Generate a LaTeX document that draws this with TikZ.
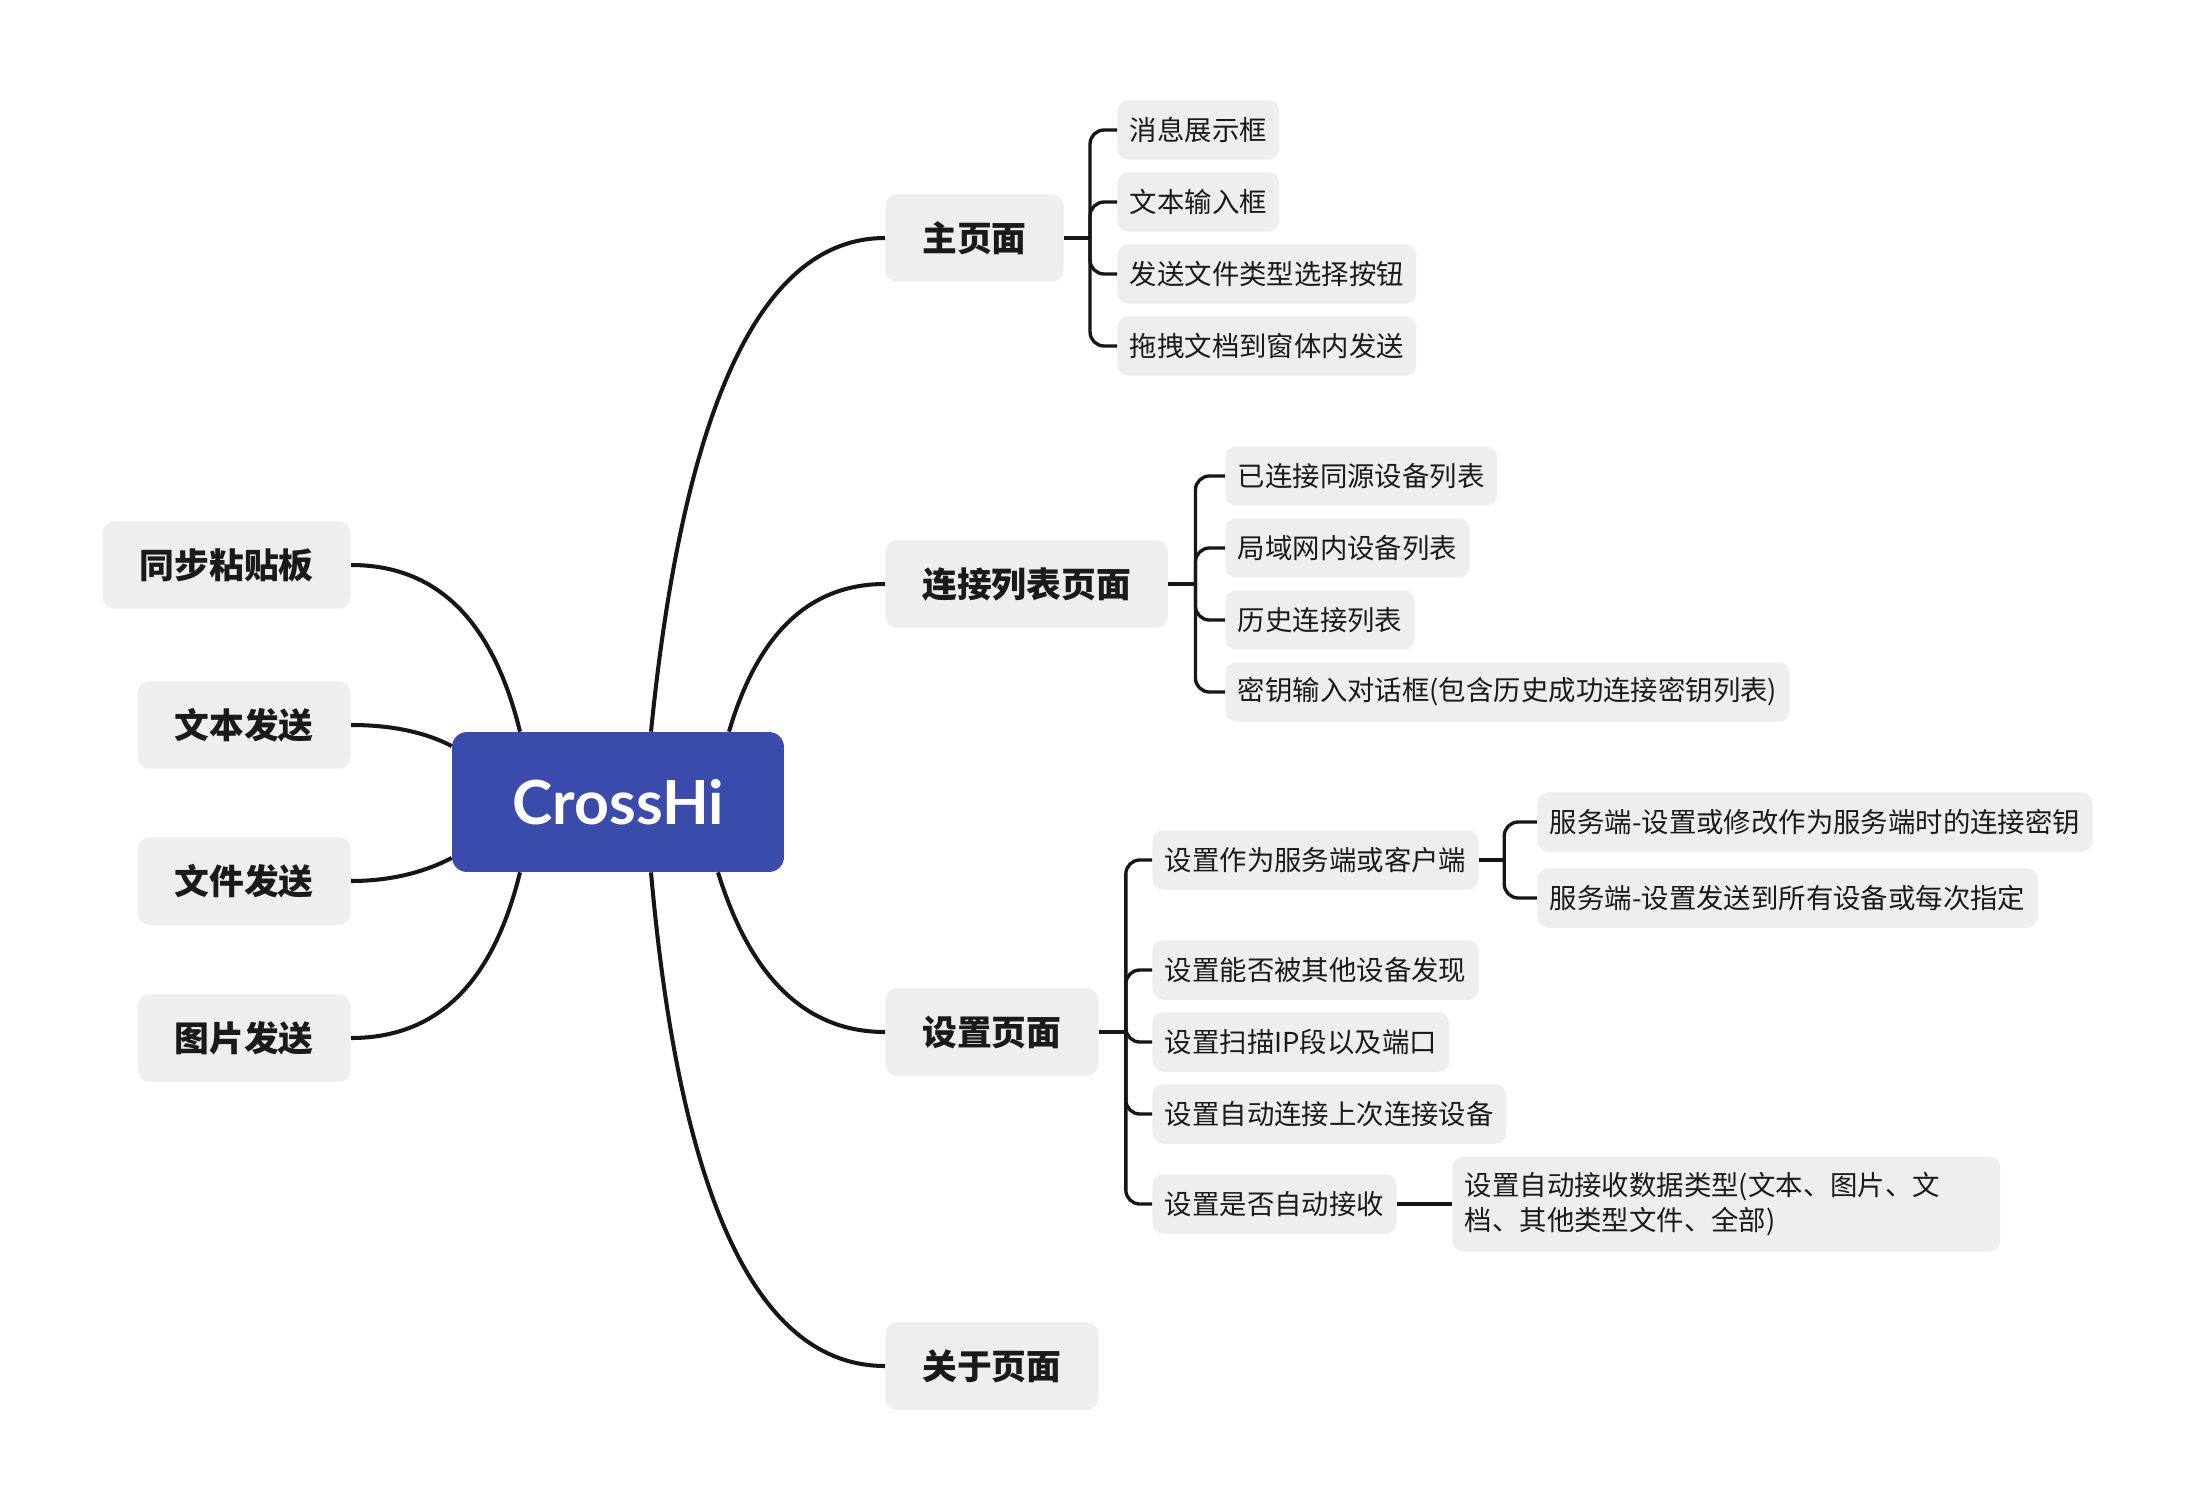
\documentclass[tikz,border=0pt]{standalone}
\usepackage{fontspec}
\setmainfont{Noto Sans CJK SC}
\newfontfamily\latofont{Lato}
\usetikzlibrary{calc}
\definecolor{RootClr}{HTML}{3B4BAB}
\definecolor{BoxClr}{HTML}{EEEEEE}
\definecolor{LineClr}{HTML}{161616}
\definecolor{TextClr}{HTML}{1A1A1A}

\begin{document}
\begin{tikzpicture}[x=0.02cm,y=-0.02cm,
  root/.style={fill=RootClr,rounded corners=0.3cm,minimum width=6.64cm,minimum height=2.8cm,
    text=white,font=\latofont\bfseries\fontsize{34.6}{40}\selectfont},
  topic/.style={fill=BoxClr,rounded corners=0.24cm,inner xsep=0.74cm,inner ysep=0pt,
    minimum height=1.75cm,text=TextClr,font=\bfseries\fontsize{19.8}{24}\selectfont},
  leaf/.style={fill=BoxClr,rounded corners=0.22cm,inner xsep=0.25cm,inner ysep=0pt,
    minimum height=1.19cm,text=TextClr,font=\fontsize{15.6}{20.4}\selectfont},
  branch/.style={draw=LineClr,line width=2.3pt},
  twig/.style={draw=LineClr,line width=1.9pt,rounded corners=0.28cm}]
\useasboundingbox (0,0) rectangle (2206,1510);

% centre
\node[root] (root) at (618,802) {CrossHi};

% left topics
\node[topic,anchor=east] (sync) at (351,565) {同步粘贴板};
\node[topic,anchor=east] (txt) at (351,725) {文本发送};
\node[topic,anchor=east] (file) at (351,881) {文件发送};
\node[topic,anchor=east] (img) at (351,1038) {图片发送};

% right topics
\node[topic,anchor=west] (home) at (885,238) {主页面};
\node[topic,anchor=west] (conn) at (885,584) {连接列表页面};
\node[topic,anchor=west] (setp) at (885,1032) {设置页面};
\node[topic,anchor=west] (about) at (885,1366) {关于页面};

% main page
\node[leaf,anchor=west] (h1) at (1117,130) {消息展示框};
\node[leaf,anchor=west] (h2) at (1117,202) {文本输入框};
\node[leaf,anchor=west] (h3) at (1117,274) {发送文件类型选择按钮};
\node[leaf,anchor=west] (h4) at (1117,346) {拖拽文档到窗体内发送};

% connection list
\node[leaf,anchor=west] (c1) at (1225,476) {已连接同源设备列表};
\node[leaf,anchor=west] (c2) at (1225,548) {局域网内设备列表};
\node[leaf,anchor=west] (c3) at (1225,620) {历史连接列表};
\node[leaf,anchor=west] (c4) at (1225,692) {密钥输入对话框(包含历史成功连接密钥列表)};

% settings
\node[leaf,anchor=west] (s1) at (1152,860) {设置作为服务端或客户端};
\node[leaf,anchor=west] (s2) at (1152,970) {设置能否被其他设备发现};
\node[leaf,anchor=west] (s3) at (1152,1042) {设置扫描IP段以及端口};
\node[leaf,anchor=west] (s4) at (1152,1114) {设置自动连接上次连接设备};
\node[leaf,anchor=west] (s5) at (1152,1204) {设置是否自动接收};
\node[leaf,anchor=west] (s11) at (1537,822) {服务端-设置或修改作为服务端时的连接密钥};
\node[leaf,anchor=west] (s12) at (1537,898) {服务端-设置发送到所有设备或每次指定};
\node[leaf,anchor=west,align=left,text width=10.46cm,minimum height=1.9cm] (s51) at (1452,1204)
  {设置自动接收数据类型(文本、图片、文\\档、其他类型文件、全部)};

% branches from the centre
\draw[branch] ([shift={(33,0)}]root.north) .. controls +(33,-329) and +(-123,0) .. (home.west);
\draw[branch] ([shift={(111,0)}]root.north) .. controls +(29,-99) and +(-75,0) .. (conn.west);
\draw[branch] ([shift={(100,0)}]root.south) .. controls +(33,107) and +(-78,0) .. (setp.west);
\draw[branch] ([shift={(33,0)}]root.south) .. controls +(29,329) and +(-127,0) .. (about.west);
\draw[branch] ([shift={(-98,0)}]root.north) .. controls +(-27,-111) and +(86,0) .. (sync.east);
\draw[branch] ([shift={(0,-56)}]root.west) .. controls +(-27,-14) and +(40,0) .. (txt.east);
\draw[branch] ([shift={(0,56)}]root.west) .. controls +(-27,14) and +(40,0) .. (file.east);
\draw[branch] ([shift={(-98,0)}]root.south) .. controls +(-27,111) and +(86,0) .. (img.east);

% brackets
\draw[twig] (home.east) -- ++(26,0) coordinate (hb);
\foreach \c in {h1,h2,h3,h4} \draw[twig] (hb) |- (\c.west);
\draw[twig] (conn.east) -- ++(27,0) coordinate (cb);
\foreach \c in {c1,c2,c3,c4} \draw[twig] (cb) |- (\c.west);
\draw[twig] (setp.east) -- ++(27,0) coordinate (sb);
\foreach \c in {s1,s2,s3,s4,s5} \draw[twig] (sb) |- (\c.west);
\draw[twig] (s1.east) -- ++(25,0) coordinate (s1b);
\foreach \c in {s11,s12} \draw[twig] (s1b) |- (\c.west);
\draw[twig] (s5.east) -- (s51.west);

\end{tikzpicture}
\end{document}
